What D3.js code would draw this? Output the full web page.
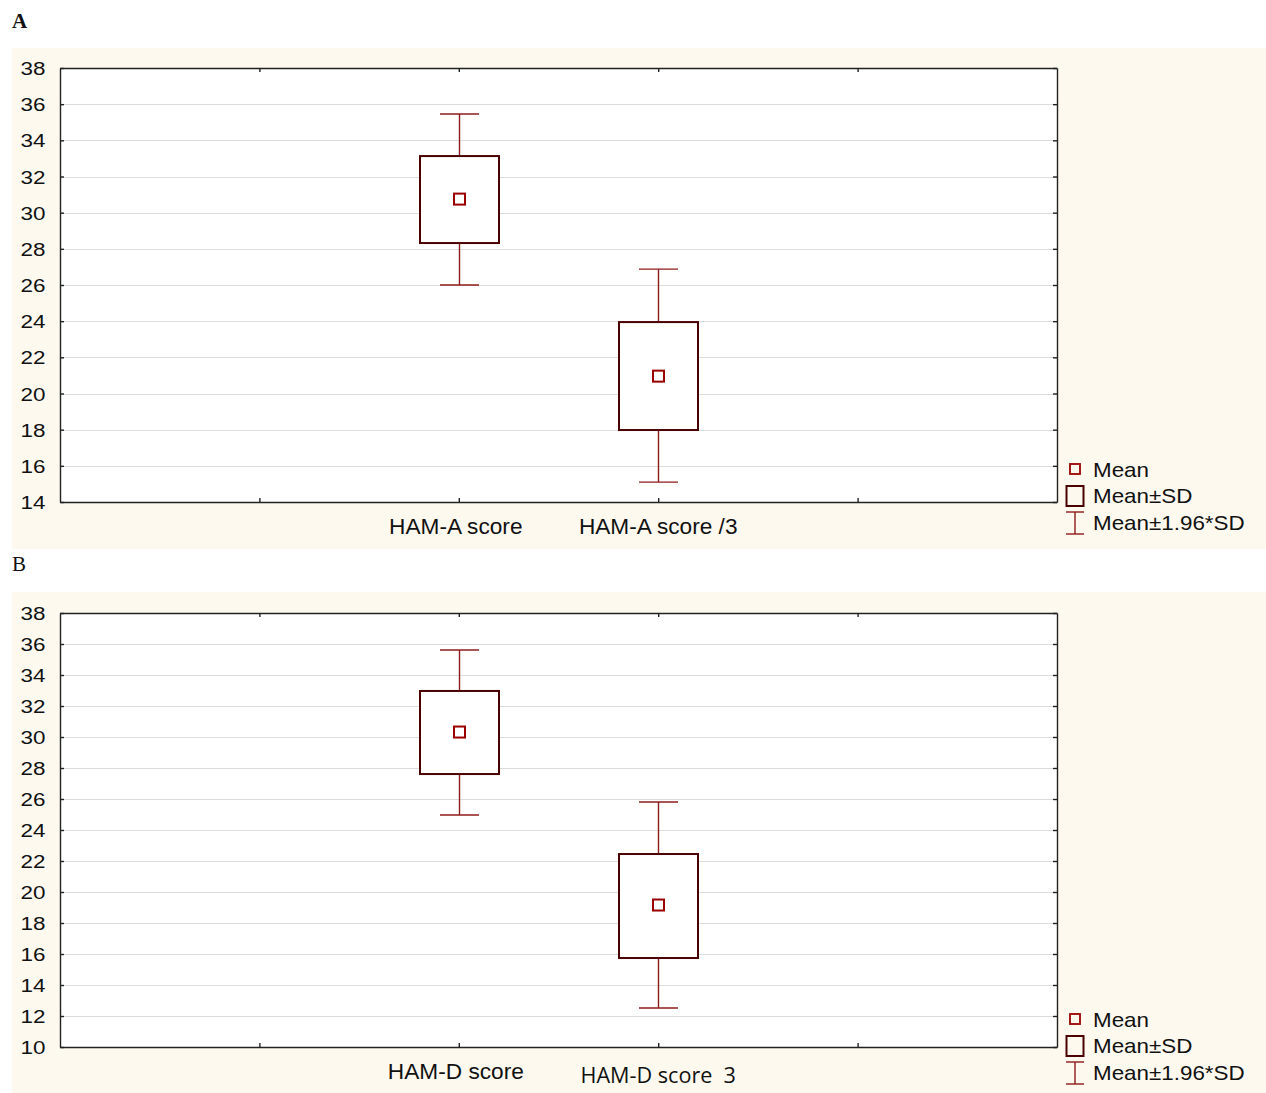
<!DOCTYPE html>
<html><head><meta charset="utf-8">
<script src="https://cdn.jsdelivr.net/npm/d3@7"></script>
<style>body{margin:0;background:#fff;} svg{display:block;} text{white-space:pre;}</style>
</head><body>
<script>
// ---- Data ----
const catsA = ["HAM-A score", "HAM-A score /3"];
const meanA = [30.75, 20.96];
const sdLowA = [28.32, 17.98];
const sdHighA = [33.13, 23.95];
const ciLowA = [26.0, 15.1];
const ciHighA = [35.46, 26.88];
const yTicksA = [14,16,18,20,22,24,26,28,30,32,34,36,38];

const catsB = ["HAM-D score", "HAM-D score  3"];
const meanB = [30.32, 19.16];
const sdLowB = [27.61, 15.74];
const sdHighB = [32.97, 22.45];
const ciLowB = [24.97, 12.52];
const ciHighB = [35.61, 25.81];
const yTicksB = [10,12,14,16,18,20,22,24,26,28,30,32,34,36,38];

const legendLabels = ["Mean", "Mean\u00b1SD", "Mean\u00b11.96*SD"];
const panelLabels = ["A", "B"];

const W = 1266, H = 1093;
const svg = d3.select("body").append("svg").attr("width", W).attr("height", H);

const FONT = "'Liberation Sans', Arial, sans-serif";
function stext(g, x, y, str, size, sx, anchor, extra) {
  return g.append("text")
    .attr("transform", `translate(${x},${y}) scale(${sx},1)`)
    .attr("font-family", (extra && extra.font) || FONT)
    .attr("font-size", size)
    .attr("fill", "#111")
    .attr("text-anchor", anchor)
    .text(str);
}

function drawPanel(cfg) {
  const g = svg.append("g");
  g.append("rect").attr("x", 12).attr("y", cfg.bgTop).attr("width", W - 12).attr("height", cfg.bgBottom - cfg.bgTop)
    .attr("fill", "#fdf9ef");
  g.append("text").attr("x", 12).attr("y", cfg.labelY)
    .attr("font-family", "'Liberation Serif', 'Times New Roman', serif")
    .attr("font-size", 21).attr("font-weight", cfg.bold ? "bold" : "normal")
    .attr("fill", "#111").text(cfg.label);

  const left = 60, right = 1057, top = cfg.plotTop, bottom = cfg.plotBottom;
  const x = d3.scaleLinear().domain([0, 5]).range([left, right]);
  const y = d3.scaleLinear().domain([cfg.yTicks[0], cfg.yTicks[cfg.yTicks.length - 1]]).range([bottom, top]);

  g.append("rect").attr("x", left).attr("y", top).attr("width", right - left).attr("height", bottom - top).attr("fill", "#fff");
  g.append("g").selectAll("line").data(cfg.yTicks.slice(1, -1)).join("line")
    .attr("x1", left).attr("x2", right).attr("y1", d => Math.round(y(d)) + 0.5).attr("y2", d => Math.round(y(d)) + 0.5)
    .attr("stroke", "#dcdcdc").attr("stroke-width", 1.2);

  const yl = d3.axisLeft(y).tickValues(cfg.yTicks).tickSize(-4).tickSizeOuter(0).tickFormat("");
  const yr = d3.axisRight(y).tickValues(cfg.yTicks).tickSize(-4).tickSizeOuter(0).tickFormat("");
  const xt = d3.axisTop(x).tickValues([1, 2, 3, 4]).tickSize(-4).tickSizeOuter(0).tickFormat("");
  const xb = d3.axisBottom(x).tickValues([1, 2, 3, 4]).tickSize(-4).tickSizeOuter(0).tickFormat("");
  [[yl, `translate(${left},0)`], [yr, `translate(${right},0)`], [xt, `translate(0,${top})`], [xb, `translate(0,${bottom})`]]
    .forEach(([ax, tr]) => {
      const a = g.append("g").attr("transform", tr).call(ax);
      a.selectAll("path,line").attr("stroke", "#222").attr("stroke-width", 1.4);
    });

  cfg.yTicks.forEach(v => stext(g, 45.5, y(v) + 7, String(v), 18.7, 1.2, "end"));

  cfg.cats.forEach((c, i) => {
    const extra = cfg.catFonts[i];
    stext(g, x(i + 2) - (i === 0 ? 3 : 0), cfg.catY[i], c, extra.size, 1.03, "middle", extra);
  });

  const idx = d3.range(cfg.cats.length);
  const wColor = "#8e1b1b";
  const capW = 39;
  idx.forEach(i => {
    const cx = Math.round(x(i + 2)) + 0.5;
    g.append("line").attr("x1", cx).attr("x2", cx).attr("y1", y(cfg.ciHigh[i])).attr("y2", y(cfg.sdHigh[i]))
      .attr("stroke", wColor).attr("stroke-width", 1.4);
    g.append("line").attr("x1", cx).attr("x2", cx).attr("y1", y(cfg.sdLow[i])).attr("y2", y(cfg.ciLow[i]))
      .attr("stroke", wColor).attr("stroke-width", 1.4);
    [cfg.ciHigh[i], cfg.ciLow[i]].forEach(v => {
      g.append("line").attr("x1", cx - capW / 2).attr("x2", cx + capW / 2).attr("y1", y(v)).attr("y2", y(v))
        .attr("stroke", wColor).attr("stroke-width", 1.4);
    });
    const bw = 79;
    g.append("rect").attr("x", cx - bw / 2).attr("y", y(cfg.sdHigh[i])).attr("width", bw)
      .attr("height", y(cfg.sdLow[i]) - y(cfg.sdHigh[i]))
      .attr("fill", "#fff").attr("stroke", "#4a0000").attr("stroke-width", 2);
    const ms = 11;
    g.append("rect").attr("x", cx - ms / 2).attr("y", y(cfg.mean[i]) - ms / 2).attr("width", ms).attr("height", ms)
      .attr("fill", "none").attr("stroke", "#9a0000").attr("stroke-width", 2);
  });

  const lx = 1075, ly = cfg.legendY;
  g.append("rect").attr("x", lx - 5).attr("y", ly - 5).attr("width", 10).attr("height", 10)
    .attr("fill", "none").attr("stroke", "#9a0000").attr("stroke-width", 1.8);
  g.append("rect").attr("x", lx - 8.5).attr("y", ly + 27 - 10).attr("width", 17).attr("height", 20)
    .attr("fill", "none").attr("stroke", "#4a0000").attr("stroke-width", 2);
  const wy = ly + 54;
  g.append("line").attr("x1", lx).attr("x2", lx).attr("y1", wy - 11).attr("y2", wy + 11).attr("stroke", wColor).attr("stroke-width", 1.4);
  g.append("line").attr("x1", lx - 9).attr("x2", lx + 9).attr("y1", wy - 11).attr("y2", wy - 11).attr("stroke", wColor).attr("stroke-width", 1.4);
  g.append("line").attr("x1", lx - 9).attr("x2", lx + 9).attr("y1", wy + 11).attr("y2", wy + 11).attr("stroke", wColor).attr("stroke-width", 1.4);
  legendLabels.forEach((t, i) => stext(g, 1093, ly + 7.5 + i * 26.7, t, 20, 1.12, "start"));
}

drawPanel({
  label: panelLabels[0], bold: true, labelY: 28, bgTop: 48, bgBottom: 549, plotTop: 68, plotBottom: 502,
  cats: catsA, mean: meanA, sdLow: sdLowA, sdHigh: sdHighA, ciLow: ciLowA, ciHigh: ciHighA, yTicks: yTicksA,
  catY: [534, 534], catFonts: [{size: 22}, {size: 22}], legendY: 469
});
drawPanel({
  label: panelLabels[1], bold: false, labelY: 571, bgTop: 592, bgBottom: 1093, plotTop: 613, plotBottom: 1047,
  cats: catsB, mean: meanB, sdLow: sdLowB, sdHigh: sdHighB, ciLow: ciLowB, ciHigh: ciHighB, yTicks: yTicksB,
  catY: [1079, 1083], catFonts: [{size: 22}, {size: 21, font: "'Open Sans', sans-serif"}], legendY: 1019
});
</script>
</body></html>
